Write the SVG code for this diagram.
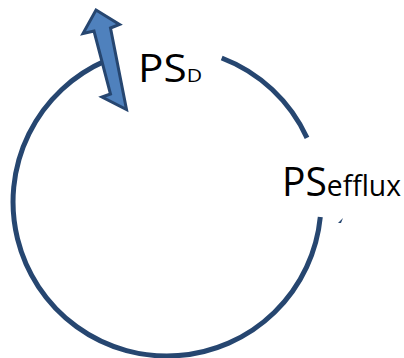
<svg xmlns="http://www.w3.org/2000/svg" width="404" height="358" viewBox="0 0 404 358">
  <style>
    .cycle { fill: none; stroke: #264670; stroke-width: 5; stroke-linecap: butt; }
    .lbl { font-family: "Open Sans", "Liberation Sans", sans-serif; fill: #000000; }
    .flow { fill: #4F81BD; stroke: #264670; stroke-width: 3; stroke-linejoin: miter; }
  </style>
  <rect width="404" height="358" fill="#FFFFFF"/>
  <g id="connectors">
    <path class="cycle" d="M 221.7 58 A 154 154 0 0 1 307 137.9"/>
    <path class="cycle" d="M 320.3 217 A 154 154 0 1 1 105.3 60.9"/>
    <polygon points="338,223 343,218 341,223" fill="#264670"/>
  </g>
  <g id="arrow">
    <polygon class="flow" points="96,10 119.5,24.5 110.5,28 126.5,109.5 102,97 110.5,94 94,31 83,33.5"/>
  </g>
  <g id="psd">
    <text class="lbl" x="138" y="82" font-size="38" textLength="64" lengthAdjust="spacingAndGlyphs">PS<tspan font-size="19">D</tspan></text>
  </g>
  <g id="psefflux">
    <text class="lbl" x="282" y="196" font-size="40" textLength="119" lengthAdjust="spacingAndGlyphs">PS<tspan font-size="29">efflux</tspan></text>
  </g>
</svg>
